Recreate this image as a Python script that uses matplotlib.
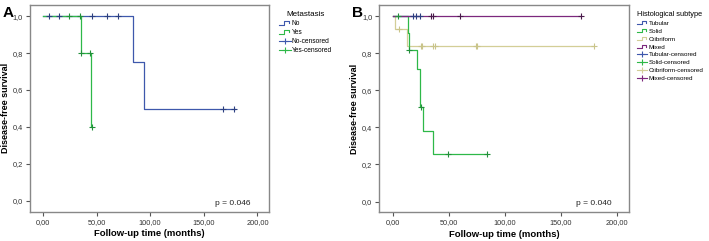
import matplotlib
matplotlib.use('Agg')
import matplotlib.pyplot as plt
from matplotlib.lines import Line2D
from matplotlib.legend_handler import HandlerBase

plt.rcParams['font.family'] = ['Liberation Sans', 'DejaVu Sans']

# SPSS default palette
c_blue = '#3e58ac'
c_green = '#2eb848'
c_beige = '#d3ce97'
c_purple = '#7c287d'

# Panel A: metastasis
no_t = [0, 84, 94, 179]
no_s = [1.0, 0.75, 0.5, 0.5]
no_cens_t = [6, 15, 46, 60, 70, 168, 178]
no_cens_s = [1.0, 1.0, 1.0, 1.0, 1.0, 0.5, 0.5]

yes_t = [0, 36, 45, 46]
yes_s = [1.0, 0.8, 0.4, 0.4]
yes_cens_t = [24, 35, 36, 44, 46]
yes_cens_s = [1.0, 1.0, 0.8, 0.8, 0.4]

# Panel B: histological subtype
tub_t = [0, 24]
tub_s = [1.0, 1.0]
tub_cens_t = [18, 21, 24]
tub_cens_s = [1.0, 1.0, 1.0]

sol_t = [0, 14, 14.9, 21.5, 24, 27, 36.3, 84.5]
sol_s = [1.0, 0.909, 0.818, 0.716, 0.511, 0.383, 0.256, 0.256]
sol_cens_t = [4.5, 14.9, 25, 49.7, 84.5]
sol_cens_s = [1.0, 0.818, 0.511, 0.256, 0.256]

cri_t = [0, 2, 13.1, 180]
cri_s = [1.0, 0.93, 0.837, 0.837]
cri_cens_t = [6, 25, 26.5, 36, 37.5, 74, 75.5, 180]
cri_cens_s = [0.93, 0.837, 0.837, 0.837, 0.837, 0.837, 0.837, 0.837]

mix_t = [0, 168]
mix_s = [1.0, 1.0]
mix_cens_t = [34, 36, 60, 168]
mix_cens_s = [1.0, 1.0, 1.0, 1.0]

xticks = [0, 50, 100, 150, 200]
xticklabels = ['0,00', '50,00', '100,00', '150,00', '200,00']
yticks = [0.0, 0.2, 0.4, 0.6, 0.8, 1.0]
yticklabels = ['0,0', '0,2', '0,4', '0,6', '0,8', '1,0']


class StepHandler(HandlerBase):
    # small step glyph used by SPSS for the survival lines
    def create_artists(self, legend, orig_handle, xdescent, ydescent,
                       width, height, fontsize, trans):
        w, h = width, height
        xs = [0, 0.45 * w, 0.45 * w, 0.85 * w, 0.85 * w]
        ys = [0.15 * h, 0.15 * h, 0.85 * h, 0.85 * h, 0.45 * h]
        xs = [x - xdescent for x in xs]
        ys = [y - ydescent for y in ys]
        ln = Line2D(xs, ys, color=orig_handle.get_color(), lw=0.8, transform=trans)
        return [ln]


def style_axes(ax):
    ax.set_xlim(-12, 211)
    ax.set_ylim(-0.058, 1.06)
    ax.set_xticks(xticks)
    ax.set_xticklabels(xticklabels)
    ax.set_yticks(yticks)
    ax.set_yticklabels(yticklabels)
    ax.tick_params(labelsize=5.3, length=3, width=0.8, color='#555555',
                   labelcolor='#333333', pad=2)
    for sp in ax.spines.values():
        sp.set_color('#888888')
        sp.set_linewidth(1.0)
    ax.set_xlabel('Follow-up time (months)', fontsize=6.8, fontweight='bold')
    ax.set_ylabel('Disease-free survival', fontsize=6.5, fontweight='bold')
    ax.xaxis.set_label_coords(0.5, -0.085)


fig = plt.figure(figsize=(7.09, 2.41), dpi=100)
axA = fig.add_axes([0.0423, 0.1216, 0.3375, 0.8577])
axB = fig.add_axes([0.535, 0.119, 0.3522, 0.860])

# ---- A
axA.step(no_t, no_s, where='post', color=c_blue, lw=0.9)
axA.step(yes_t, yes_s, where='post', color=c_green, lw=0.9)
axA.plot(no_cens_t, no_cens_s, ls='none', marker='+', ms=4, mew=0.8, color='#2c3f80')
axA.plot(yes_cens_t, yes_cens_s, ls='none', marker='+', ms=4, mew=0.8, color='#22903a')
style_axes(axA)
axA.yaxis.set_label_coords(-0.085, 0.5)
axA.text(0.848, 0.042, 'p = 0.046', transform=axA.transAxes, fontsize=6,
         ha='center', va='center', color='#222222')
fig.text(0.004, 0.975, 'A', fontsize=11, fontweight='bold', va='top')

hA = [Line2D([], [], color=c_blue), Line2D([], [], color=c_green),
      Line2D([], [], color=c_blue, marker='+', ms=5, mew=0.8, lw=0.8),
      Line2D([], [], color=c_green, marker='+', ms=5, mew=0.8, lw=0.8)]
legA = fig.legend(hA, ['No', 'Yes', 'No-censored', 'Yes-censored'],
                  loc='upper left', bbox_to_anchor=(276 / 709, 1 - 8 / 241),
                  frameon=False, fontsize=4.8, title='Metastasis', title_fontsize=5.8,
                  handlelength=1.7, handletextpad=0.2, labelspacing=0.3,
                  borderpad=0, numpoints=1,
                  handler_map={hA[0]: StepHandler(), hA[1]: StepHandler()})
legA._legend_box.align = 'center'

# ---- B
axB.step(cri_t, cri_s, where='post', color=c_beige, lw=0.9)
axB.step(sol_t, sol_s, where='post', color=c_green, lw=0.9)
axB.step(tub_t, tub_s, where='post', color=c_blue, lw=0.9)
axB.step(mix_t, mix_s, where='post', color=c_purple, lw=0.9)
axB.plot(cri_cens_t, cri_cens_s, ls='none', marker='+', ms=4, mew=0.8, color='#c9c48a')
axB.plot(sol_cens_t, sol_cens_s, ls='none', marker='+', ms=4, mew=0.8, color='#22903a')
axB.plot(tub_cens_t, tub_cens_s, ls='none', marker='+', ms=4, mew=0.8, color='#2c3f80')
axB.plot(mix_cens_t, mix_cens_s, ls='none', marker='+', ms=4, mew=0.8, color='#4a1a4b')
style_axes(axB)
axB.yaxis.set_label_coords(-0.08, 0.5)
axB.text(0.86, 0.042, 'p = 0.040', transform=axB.transAxes, fontsize=6,
         ha='center', va='center', color='#222222')
fig.text(0.497, 0.975, 'B', fontsize=11, fontweight='bold', va='top')

hB = [Line2D([], [], color=c_blue), Line2D([], [], color=c_green),
      Line2D([], [], color=c_beige), Line2D([], [], color=c_purple),
      Line2D([], [], color=c_blue, marker='+', ms=5, mew=0.8, lw=0.8),
      Line2D([], [], color=c_green, marker='+', ms=5, mew=0.8, lw=0.8),
      Line2D([], [], color=c_beige, marker='+', ms=5, mew=0.8, lw=0.8),
      Line2D([], [], color=c_purple, marker='+', ms=5, mew=0.8, lw=0.8)]
legB = fig.legend(hB, ['Tubular', 'Solid', 'Cribriform', 'Mixed',
                       'Tubular-censored', 'Solid-censored',
                       'Cribriform-censored', 'Mixed-censored'],
                  loc='upper left', bbox_to_anchor=(634 / 709, 1 - 8 / 241),
                  frameon=False, fontsize=4.5, title='Histological subtype', title_fontsize=5.3,
                  handlelength=1.6, handletextpad=0.2, labelspacing=0.4,
                  borderpad=0, numpoints=1,
                  handler_map={h: StepHandler() for h in hB[:4]})
legB._legend_box.align = 'left'

fig.savefig('out.png', dpi=100)
